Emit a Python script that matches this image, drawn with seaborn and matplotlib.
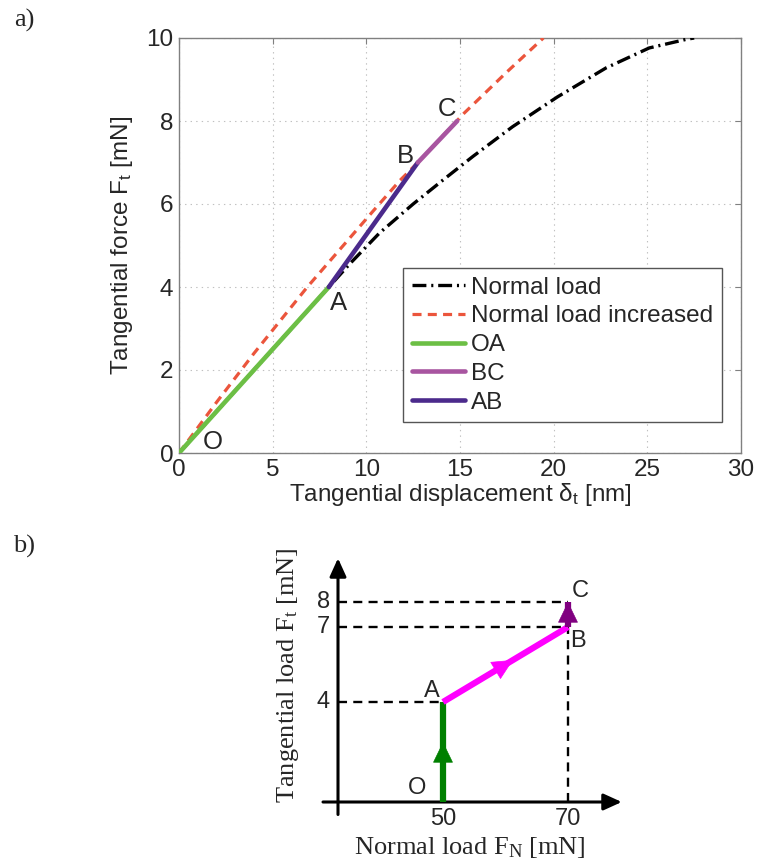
import matplotlib
matplotlib.use("Agg")
import matplotlib.pyplot as plt
import seaborn as sns
import pandas as pd

# ---------------- data: panel a ----------------
normal_x = [0, 4, 8, 9.1, 10.7, 12.5, 14.1, 15.7, 17.8, 20.2, 22.8, 25.1, 27.1, 27.5]
normal_y = [0, 2, 4, 4.55, 5.3, 6.0, 6.58, 7.15, 7.86, 8.58, 9.28, 9.76, 9.97, 10.0]
incr_x = [0, 2, 4, 6.85, 10.4, 11.8, 12.75, 15.2, 17.5, 19.45]
incr_y = [0, 1.22, 2.4, 4.0, 5.85, 6.57, 7.0, 8.18, 9.18, 10.0]
pt_labels = ["O", "A", "B", "C"]
pt_x = [0, 8, 12.75, 14.85]
pt_y = [0, 4, 7, 8]
x_ticks = [0, 5, 10, 15, 20, 25, 30]
y_ticks = [0, 2, 4, 6, 8, 10]

# ---------------- data: panel b ----------------
path_labels = ["O", "A", "B", "C"]
path_fn = [50, 50, 70, 70]
path_ft = [0, 4, 7, 8]
fn_ticks = [50, 70]
ft_ticks = [4, 7, 8]

sns.set_style("white")
plt.rcParams["font.family"] = ["Liberation Sans", "DejaVu Sans"]
plt.rcParams["mathtext.default"] = "regular"
plt.rcParams["lines.scale_dashes"] = False

fig = plt.figure(figsize=(7.6, 8.6), dpi=100)

# ================= panel a =================
W, H = 760.0, 860.0
ax = fig.add_axes([179 / W, 1 - 453 / H, 562 / W, 415 / H])

c_norm = "black"
c_incr = "#eb553c"
c_oa = "#6cbf45"
c_bc = "#a855a0"
c_ab = "#4b2a8c"

sns.lineplot(x=normal_x, y=normal_y, ax=ax, color=c_norm, lw=2.4, sort=False,
             estimator=None, linestyle=(0, (10, 3.5, 1.5, 3.5)), label="Normal load", zorder=3)
sns.lineplot(x=incr_x, y=incr_y, ax=ax, color=c_incr, lw=2.3, sort=False,
             estimator=None, linestyle=(0, (6.5, 4.5)), label="Normal load increased", zorder=3)
sns.lineplot(x=pt_x[0:2], y=pt_y[0:2], ax=ax, color=c_oa, lw=3.3, sort=False,
             estimator=None, label="OA", zorder=4)
sns.lineplot(x=pt_x[2:4], y=pt_y[2:4], ax=ax, color=c_bc, lw=3.3, sort=False,
             estimator=None, label="BC", zorder=5)
sns.lineplot(x=pt_x[1:3], y=pt_y[1:3], ax=ax, color=c_ab, lw=3.3, sort=False,
             estimator=None, label="AB", zorder=4)

ax.set_xlim(0, 30)
ax.set_ylim(0, 10)
ax.set_xticks(x_ticks)
ax.set_yticks(y_ticks)
ax.grid(True, color="#c0c0c0", lw=0.8, linestyle=(0, (1, 3)))
ax.tick_params(direction="in", length=4, width=0.8, color="#808080",
               labelsize=17.5, top=True, right=True, pad=4)
for s in ax.spines.values():
    s.set_color("#808080")
    s.set_linewidth(1.0)
ax.set_xlabel(r"Tangential displacement $\delta_t$ [nm]", fontsize=17.5, labelpad=0)
ax.set_ylabel(r"Tangential force $F_t$ [mN]", fontsize=17.5, labelpad=8)

offsets_a = [(24, 8), (7, -11.5), (-9, 5), (-7, 9)]
for lab, x, y, off in zip(pt_labels, pt_x, pt_y, offsets_a):
    ax.annotate(lab, (x, y), xytext=off, textcoords="offset points",
                ha="center", va="center", fontsize=18.5, zorder=6)

h, l = ax.get_legend_handles_labels()
leg = ax.legend(h, l, loc="upper left", bbox_to_anchor=((403 - 179) / 562, (453 - 268) / 415),
                borderaxespad=0, fontsize=17.5, handlelength=2.2, handletextpad=0.25,
                labelspacing=0.28, borderpad=0.35, fancybox=False, framealpha=1,
                edgecolor="#555555")
leg.get_frame().set_linewidth(1.0)

fig.text(24 / W, 1 - 20 / H, "a)", fontsize=19, family="Liberation Serif",
         ha="center", va="center")
fig.text(24 / W, 1 - 546 / H, "b)", fontsize=19, family="Liberation Serif",
         ha="center", va="center")

# ================= panel b =================
bx = fig.add_axes([305.5 / W, 1 - 827 / H, 337.5 / W, 287.5 / H])
bx.set_xlim(28, 82)
bx.set_ylim(-1.0, 10.5)
bx.axis("off")

ax_x0 = 33.2
# axes arrows
bx.annotate("", xy=(78.6, 0), xytext=(30.8, 0),
            arrowprops=dict(arrowstyle="-|>,head_length=0.55,head_width=0.25", lw=2.2,
                            color="black", mutation_scale=20, shrinkA=0, shrinkB=0))
bx.annotate("", xy=(ax_x0, 9.75), xytext=(ax_x0, -0.5),
            arrowprops=dict(arrowstyle="-|>,head_length=0.55,head_width=0.25", lw=2.2,
                            color="black", mutation_scale=20, shrinkA=0, shrinkB=0))

# dashed guides
dash = (0, (6.5, 4.5))
for fn, ft in zip(path_fn[1:], path_ft[1:]):
    sns.lineplot(x=[ax_x0, fn], y=[ft, ft], ax=bx, color="black", lw=1.7,
                 linestyle=dash, sort=False, estimator=None, zorder=2)
sns.lineplot(x=[path_fn[-1], path_fn[-1]], y=[0, path_ft[-1]], ax=bx, color="black",
             lw=1.7, linestyle=dash, sort=False, estimator=None, zorder=2)

seg_colors = ["#008000", "#ff00ff", "#800080"]
tip_frac = [0.6, 0.56, 1.0]
for i, (c, f) in enumerate(zip(seg_colors, tip_frac)):
    x0, x1 = path_fn[i], path_fn[i + 1]
    y0, y1 = path_ft[i], path_ft[i + 1]
    sns.lineplot(x=[x0, x1], y=[y0, y1], ax=bx, color=c, lw=4.5, sort=False,
                 estimator=None, zorder=4, solid_capstyle="butt")
    tx, ty = x0 + f * (x1 - x0), y0 + f * (y1 - y0)
    bx_, by_ = x0 + (f - 0.05) * (x1 - x0), y0 + (f - 0.05) * (y1 - y0)
    bx.annotate("", xy=(tx, ty), xytext=(bx_, by_),
                arrowprops=dict(arrowstyle="-|>,head_length=0.7,head_width=0.34",
                                lw=0.5, color=c, mutation_scale=20,
                                shrinkA=0, shrinkB=0), zorder=5)

offsets_b = [(-19, 10), (-8, 8), (7, -10), (9, 8)]
for lab, x, y, off in zip(path_labels, path_fn, path_ft, offsets_b):
    bx.annotate(lab, (x, y), xytext=off, textcoords="offset points",
                ha="center", va="center", fontsize=17, zorder=6)

for t in fn_ticks:
    bx.text(t, -0.68, str(t), ha="center", va="center", fontsize=17)
for t in ft_ticks:
    bx.text(31.9, t, str(t), ha="right", va="center", fontsize=17)

fig.text(288 / W, 1 - 675 / H, r"Tangential load $F_{t}$ [mN]", rotation=90,
         fontsize=19, family="Liberation Serif", ha="center", va="center")
fig.text(470 / W, 1 - 847 / H, r"Normal load $F_{N}$ [mN]",
         fontsize=19, family="Liberation Serif", ha="center", va="center")

fig.savefig("out.png", dpi=100)
